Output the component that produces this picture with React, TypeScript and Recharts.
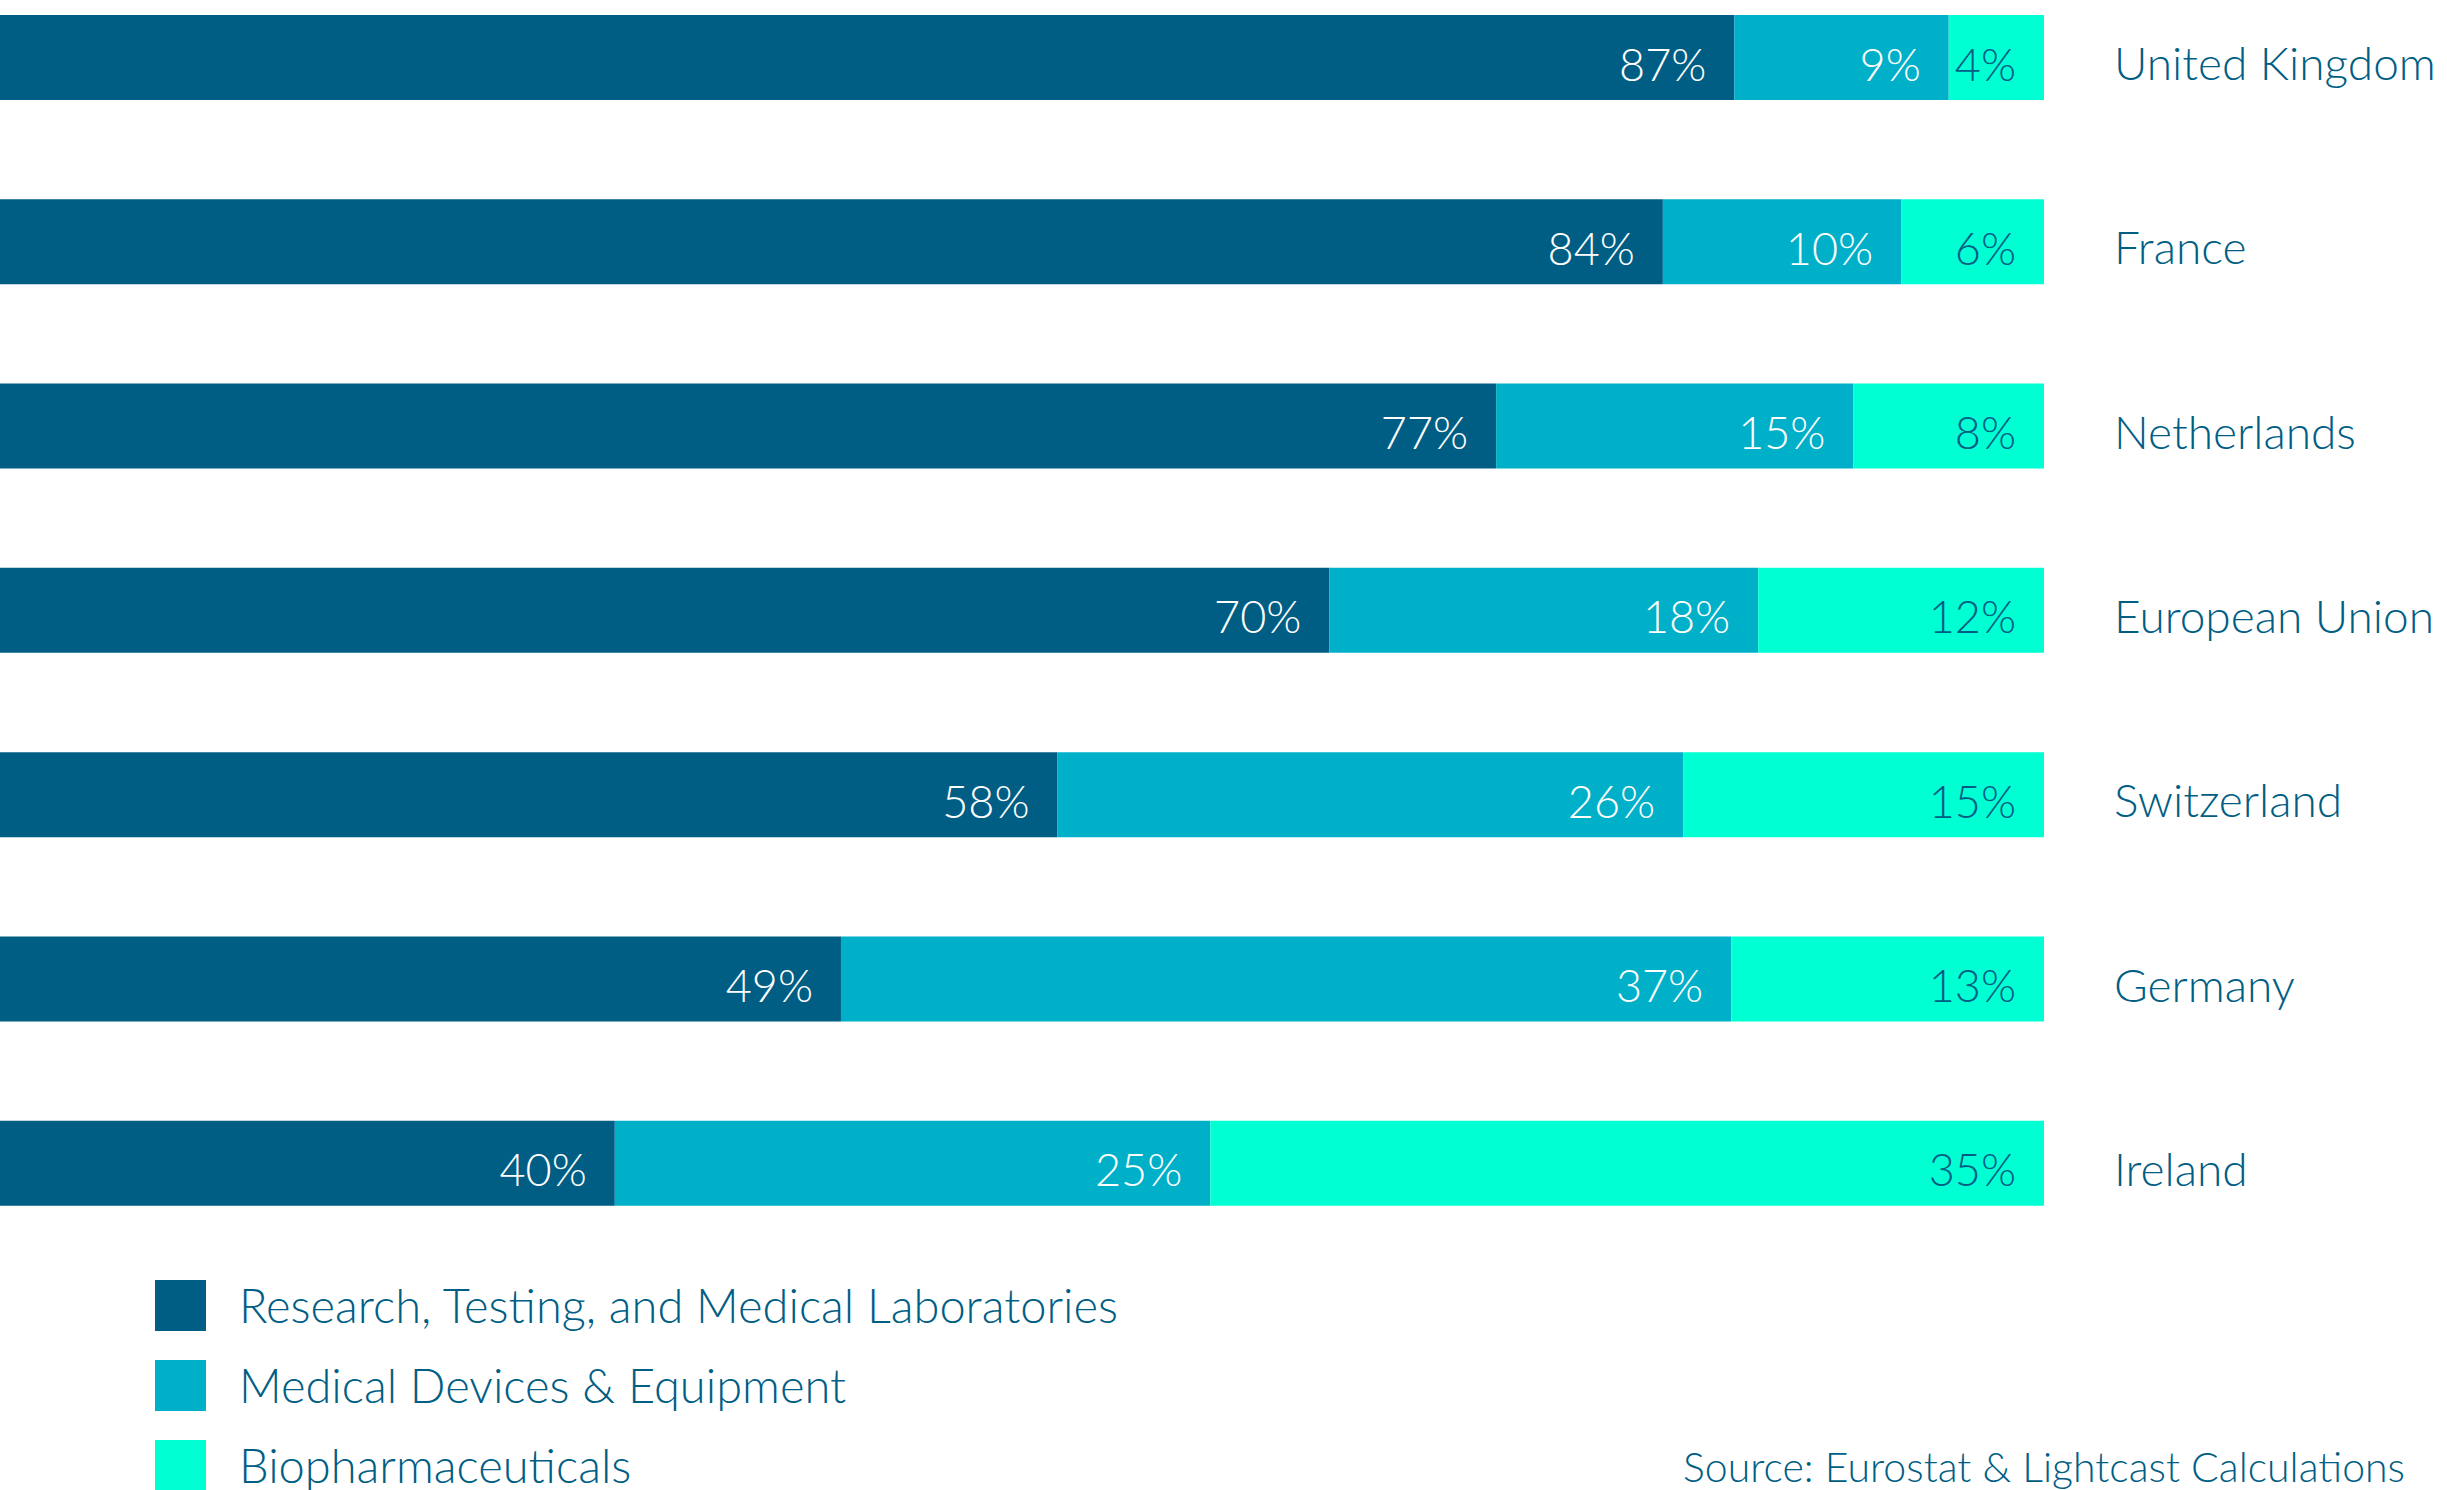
import React from 'react';
import { BarChart, Bar, XAxis, YAxis, Legend, LabelList } from 'recharts';

const countries = ['United Kingdom', 'France', 'Netherlands', 'European Union', 'Switzerland', 'Germany', 'Ireland'];
const research = [87, 84, 77, 70, 58, 49, 40];
const devices = [9, 10, 15, 18, 26, 37, 25];
const biopharma = [4, 6, 8, 12, 15, 13, 35];

const seriesNames = ['Research, Testing, and Medical Laboratories', 'Medical Devices & Equipment', 'Biopharmaceuticals'];
const sourceText = 'Source: Eurostat & Lightcast Calculations';

const DARK = '#005E84';
const MID = '#00B0C8';
const BRIGHT = '#00FFD2';
const FONT = "Lato, 'Open Sans', sans-serif";

const data = countries.map((c, i) => ({
  country: c,
  research: research[i],
  devices: devices[i],
  biopharma: biopharma[i],
}));

const makeLabel = (values: number[], color: string) => (props: any) => {
  const vb = props.viewBox || {};
  const x = props.x ?? vb.x;
  const y = props.y ?? vb.y;
  const w = props.width ?? vb.width;
  const h = props.height ?? vb.height;
  const idx = props.index;
  const v = idx != null && values[idx] != null ? values[idx] : props.value;
  if (x == null || w == null) return null;
  return (
    <text
      x={x + w - 28}
      y={y + h / 2}
      dy={23}
      textAnchor="end"
      fill={color}
      fontFamily={FONT}
      fontWeight={300}
      fontSize={45}
    >
      {`${v}%`}
    </text>
  );
};

const CountryTick = (props: any) => {
  const { x, y, payload } = props;
  return (
    <text x={x} y={y} dy={23} textAnchor="start" fill={DARK} fontFamily={FONT} fontWeight={300} fontSize={46}>
      {payload.value}
    </text>
  );
};

const LegendContent = (props: any) => {
  const items = [...(props.payload || [])].sort(
    (a: any, b: any) => seriesNames.indexOf(a.value) - seriesNames.indexOf(b.value)
  );
  return (
    <div style={{ fontFamily: FONT, fontWeight: 300 }}>
      {items.map((it: any, i: number) => (
        <div key={i} style={{ display: 'flex', alignItems: 'center', height: 51, marginBottom: 29 }}>
          <div style={{ width: 51, height: 51, background: it.color, flex: '0 0 auto' }} />
          <span style={{ marginLeft: 33, fontSize: 47, lineHeight: '51px', color: DARK, whiteSpace: 'nowrap' }}>
            {it.value}
          </span>
        </div>
      ))}
    </div>
  );
};

export default function App() {
  return (
    <div
      style={{
        position: 'absolute',
        left: 0,
        top: 0,
        width: 2447,
        height: 1490,
        overflow: 'hidden',
        background: '#ffffff',
      }}
    >
      <BarChart
        width={2447}
        height={1490}
        data={data}
        layout="vertical"
        stackOffset="expand"
        margin={{ top: -35, right: 0, bottom: 235, left: -338 }}
        barCategoryGap={0}
      >
        <XAxis type="number" hide domain={[0, 1]} />
        <YAxis
          type="category"
          dataKey="country"
          orientation="right"
          width={403}
          axisLine={false}
          tickLine={false}
          tickSize={0}
          tickMargin={70}
          tick={<CountryTick />}
          interval={0}
        />
        <Legend
          layout="horizontal"
          verticalAlign="middle"
          align="center"
          content={<LegendContent />}
          wrapperStyle={{ left: 155, top: 1280, width: 1100, height: 220, bottom: 'auto', right: 'auto' }}
        />
        <Bar dataKey="research" name={seriesNames[0]} stackId="a" fill={DARK} barSize={85} isAnimationActive={false}>
          <LabelList dataKey="research" content={makeLabel(research, '#ffffff')} />
        </Bar>
        <Bar dataKey="devices" name={seriesNames[1]} stackId="a" fill={MID} barSize={85} isAnimationActive={false}>
          <LabelList dataKey="devices" content={makeLabel(devices, '#ffffff')} />
        </Bar>
        <Bar dataKey="biopharma" name={seriesNames[2]} stackId="a" fill={BRIGHT} barSize={85} isAnimationActive={false}>
          <LabelList dataKey="biopharma" content={makeLabel(biopharma, DARK)} />
        </Bar>
      </BarChart>
      <div
        style={{
          position: 'absolute',
          right: 42,
          top: 1446,
          fontFamily: FONT,
          fontWeight: 300,
          fontSize: 41,
          lineHeight: 1,
          color: DARK,
          whiteSpace: 'nowrap',
        }}
      >
        {sourceText}
      </div>
    </div>
  );
}
